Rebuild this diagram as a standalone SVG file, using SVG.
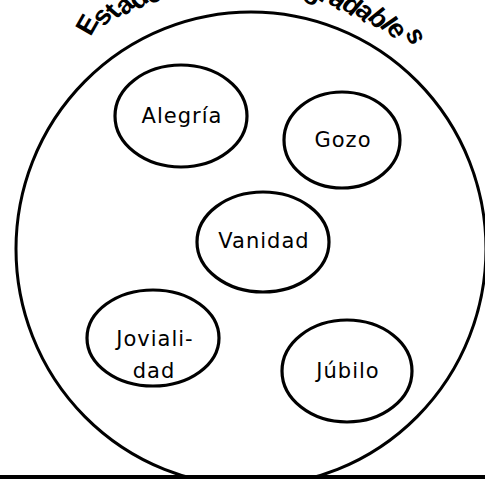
<svg xmlns="http://www.w3.org/2000/svg" width="485" height="479" viewBox="0 0 485 479">
<style>
.ring{fill:none;stroke:#000;stroke-width:3}
.node{fill:#fff;stroke:#000;stroke-width:3.2}
.lbl{font-family:"DejaVu Sans","Liberation Sans",sans-serif;font-size:21px;letter-spacing:1px;fill:#000;text-anchor:middle}
.title{font-family:"Liberation Sans",Arial,sans-serif;font-weight:bold;font-size:27px;fill:#000}
</style>
<rect x="0" y="0" width="485" height="479" fill="#fff"/>
<g id="container">
<ellipse class="ring" cx="251" cy="249" rx="235" ry="237"/>
<text class="title" x="90.5 104.5 116.5 125.2 137.8 151.4 165.1 177.9 184.4 198.7 212.7 218.5 231.8 246.6 253.1 274.6 289.4 296.1 303.4 317.6 327.0 339.9 353.8 366.4 378.9 385.7 405.0" y="37.0 27.5 20.0 16.4 11.0 5.6 0.9 -3.3 -4.3 -7.5 -9.9 -10.4 -11.6 -12.1 -12.6 -11.4 -9.2 -8.7 -5.0 -0.5 2.0 6.5 12.0 17.5 25.5 27.5 32.5" rotate="-60 -54 -49 -45 -40 -34 -29 -24 -19 -14 -10.6 -7.1 -2.3 1.4 6.3 12.5 16.2 21 27 31 36 41 46 51 55 59 66">Estados de ánimo agradables</text>
</g>
<g id="alegria">
<ellipse class="node" cx="181" cy="116" rx="66" ry="51"/>
<text class="lbl" x="182" y="123">Alegría</text>
</g>
<g id="gozo">
<ellipse class="node" cx="342" cy="140" rx="58" ry="48"/>
<text class="lbl" x="343" y="147">Gozo</text>
</g>
<g id="vanidad">
<ellipse class="node" cx="263" cy="242" rx="66" ry="50"/>
<text class="lbl" x="264" y="248">Vanidad</text>
</g>
<g id="jovialidad">
<ellipse class="node" cx="153" cy="338" rx="66" ry="48"/>
<text class="lbl" x="155" y="346">Joviali-</text>
<text class="lbl" x="154" y="378">dad</text>
</g>
<g id="jubilo">
<ellipse class="node" cx="347" cy="371" rx="65" ry="51"/>
<text class="lbl" x="348" y="378">Júbilo</text>
</g>
<g id="connectors"></g>
<rect x="0" y="475" width="485" height="4" fill="#000"/>
</svg>
